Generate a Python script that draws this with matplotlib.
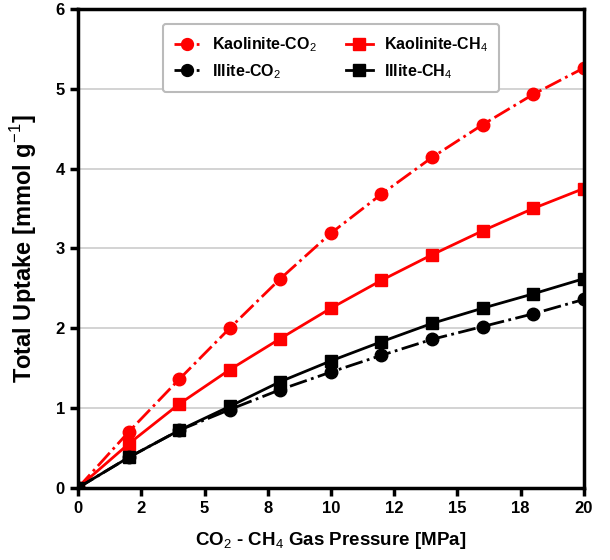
import numpy as np
import matplotlib.pyplot as plt
from matplotlib.ticker import FuncFormatter

plt.rcParams['font.family'] = ['Liberation Sans', 'DejaVu Sans']
plt.rcParams['mathtext.fontset'] = 'custom'
plt.rcParams['mathtext.rm'] = 'Liberation Sans'
plt.rcParams['mathtext.bf'] = 'Liberation Sans:bold'

pressure = [0, 2, 4, 6, 8, 10, 12, 14, 16, 18, 20]
kaolinite_co2 = [0, 0.70, 1.36, 2.00, 2.62, 3.19, 3.68, 4.14, 4.55, 4.93, 5.26]
kaolinite_ch4 = [0, 0.55, 1.05, 1.48, 1.87, 2.25, 2.60, 2.92, 3.22, 3.50, 3.75]
illite_co2 = [0, 0.38, 0.72, 0.98, 1.23, 1.45, 1.66, 1.86, 2.02, 2.18, 2.36]
illite_ch4 = [0, 0.38, 0.72, 1.02, 1.33, 1.59, 1.83, 2.06, 2.25, 2.43, 2.62]

fig = plt.figure(figsize=(6.1, 5.6), dpi=100)
ax = fig.add_axes([0.128, 0.129, 0.829, 0.855])

ax.plot(pressure, kaolinite_co2, color='red', ls='-.', lw=2, marker='o', ms=9, label='Kaolinite-CO$_2$')
ax.plot(pressure, kaolinite_ch4, color='red', ls='-', lw=2, marker='s', ms=9, label='Kaolinite-CH$_4$')
ax.plot(pressure, illite_co2, color='black', ls='-.', lw=2, marker='o', ms=9, label='Illite-CO$_2$')
ax.plot(pressure, illite_ch4, color='black', ls='-', lw=2, marker='s', ms=9, label='Illite-CH$_4$')

ax.set_xlim(0, 20)
ax.set_ylim(0, 6)
ax.set_xticks(np.arange(0, 20.1, 2.5))
ax.xaxis.set_major_formatter(FuncFormatter(lambda v, p: f"{v:.0f}"))
ax.set_yticks(range(7))
ax.grid(axis='y', color='#cccccc', lw=1.2)
ax.set_axisbelow(True)

for s in ax.spines.values():
    s.set_linewidth(2.5)
ax.tick_params(direction='out', length=6, width=2.5, labelsize=12)
for lbl in ax.get_xticklabels() + ax.get_yticklabels():
    lbl.set_fontweight('bold')

ax.set_xlabel('CO$_2$ - CH$_4$ Gas Pressure [MPa]', fontsize=13.5, fontweight='bold', labelpad=10)
ax.set_ylabel('Total Uptake [mmol g$^{-1}$]', fontsize=17, fontweight='bold', labelpad=12)

handles, labels = ax.get_legend_handles_labels()
order = [0, 2, 1, 3]
leg = ax.legend([handles[i] for i in order], [labels[i] for i in order], ncol=2,
                loc='upper center', bbox_to_anchor=(0.5, 0.985),
                prop={'weight': 'bold', 'size': 11.5}, handlelength=1.7, markerscale=0.95,
                columnspacing=1.8, handletextpad=0.7, borderpad=0.7,
                edgecolor='#bbbbbb', framealpha=1)
leg.get_frame().set_linewidth(1.5)

fig.savefig('out.png', dpi=100)
